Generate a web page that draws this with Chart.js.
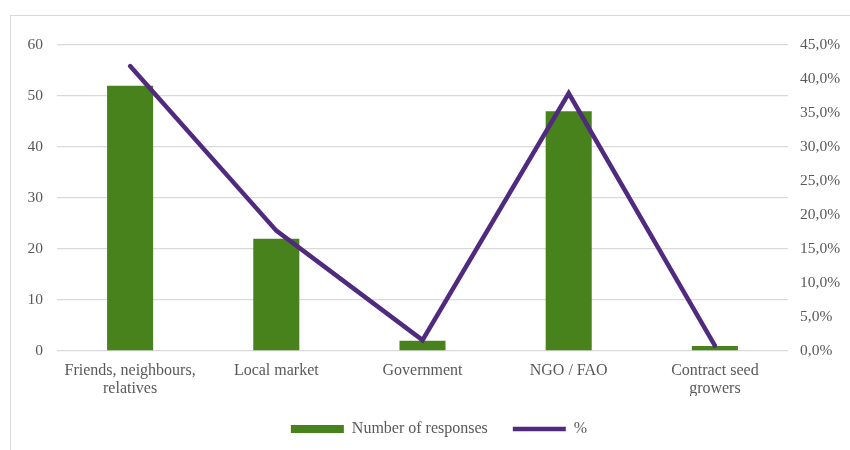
<!DOCTYPE html>
<html>
<head>
<meta charset="utf-8">
<script src="https://cdn.jsdelivr.net/npm/chart.js@4"></script>
<style>
  body { margin: 0; background: #fff; }
  #frame { position: absolute; left: 10px; top: 15px; width: 860px; height: 460px; border: 1px solid #d9d9d9; }
  #wrap { position: absolute; left: 0; top: 0; width: 850px; height: 450px; }
</style>
</head>
<body>
<div id="frame"></div>
<div id="wrap"><canvas id="grafico"></canvas></div>
<script>
const categorias = [['Friends, neighbours,', 'relatives'], 'Local market', 'Government', 'NGO / FAO', ['Contract seed', 'growers']];
const respostas = [52, 22, 2, 47, 1];
const percentual = [41.9, 17.7, 1.6, 37.9, 0.8];

const fonte = { family: "'Liberation Serif', 'DejaVu Serif', serif", size: 16, lineHeight: 1.13 };
const fonteEixo = { family: "'Liberation Serif', 'DejaVu Serif', serif", size: 15.5 };
const cinza = '#595959';

// desloca a legenda um pouco para a direita, como no original
const deslocaLegenda = {
    id: 'deslocaLegenda',
    afterLayout: chart => { chart.legend.left += 14; chart.legend.right += 14; }
};

const ctx = document.getElementById('grafico');
new Chart(ctx, {
    data: {
        labels: categorias,
        datasets: [{
            type: 'line',
            label: '%',
            data: percentual,
            yAxisID: 'y1',
            borderColor: '#4f2a7e',
            backgroundColor: '#4f2a7e',
            borderWidth: 4.5,
            borderCapStyle: 'round',
            pointRadius: 0,
            tension: 0,
            order: 1
        }, {
            type: 'bar',
            label: 'Number of responses',
            data: respostas,
            yAxisID: 'y',
            backgroundColor: '#47821c',
            barPercentage: 0.315,
            categoryPercentage: 1,
            order: 2
        }]
    },
    plugins: [deslocaLegenda],
    options: {
        responsive: true,
        maintainAspectRatio: false,
        animation: false,
        layout: { padding: { top: 45, bottom: 3, left: 0, right: 0 } },
        plugins: {
            legend: {
                position: 'bottom',
                reverse: true,
                labels: {
                    font: fonte,
                    color: cinza,
                    usePointStyle: true,
                    pointStyleWidth: 53,
                    boxHeight: 8,
                    padding: 25,
                    generateLabels: chart => chart.data.datasets.map((ds, i) => ({
                        text: ds.label,
                        fillStyle: ds.backgroundColor,
                        strokeStyle: ds.type === 'line' ? ds.borderColor : ds.backgroundColor,
                        lineWidth: ds.type === 'line' ? 4.5 : 0,
                        pointStyle: ds.type === 'line' ? 'line' : 'rect',
                        fontColor: cinza,
                        datasetIndex: i
                    }))
                }
            },
            tooltip: { enabled: false }
        },
        scales: {
            x: {
                grid: { display: false },
                border: { display: false },
                ticks: { font: fonte, color: cinza, maxRotation: 0, autoSkip: false, padding: 3 },
                afterFit: s => { s.height = 45; }
            },
            y: {
                position: 'left',
                min: 0, max: 60,
                ticks: { stepSize: 10, font: fonteEixo, color: cinza, padding: 14 },
                grid: { color: '#d9d9d9', lineWidth: 1.3, drawTicks: false },
                border: { display: false },
                afterFit: s => { s.width = 57; }
            },
            y1: {
                position: 'right',
                min: 0, max: 45,
                ticks: {
                    stepSize: 5, font: fonteEixo, color: cinza, padding: 12,
                    callback: v => v.toFixed(1).replace('.', ',') + '%'
                },
                grid: { display: false, drawTicks: false },
                border: { display: false },
                afterFit: s => { s.width = 62; }
            }
        }
    }
});
</script>
</body>
</html>
